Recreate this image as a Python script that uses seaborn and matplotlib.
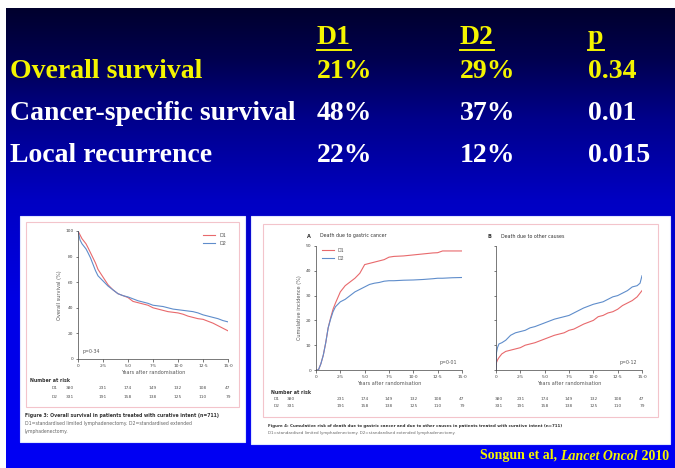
import numpy as np
import pandas as pd
import matplotlib
matplotlib.use("Agg")
import matplotlib.pyplot as plt
import seaborn as sns
from matplotlib.patches import Rectangle
from matplotlib.lines import Line2D

# ---------------- data ----------------
row_labels = ["Overall survival", "Cancer-specific survival", "Local recurrence"]
col_headers = ["D1", "D2", "p"]
d1_values = ["21%", "48%", "22%"]
d2_values = ["29%", "37%", "12%"]
p_values = ["0.34", "0.01", "0.015"]

# Figure 3: overall survival (%)
os_t = [0, 0.2, 0.4, 0.6, 0.8, 1.0, 1.25, 1.5, 1.75, 2.0, 2.25, 2.5, 3.0, 3.5, 4.0, 4.5,
        5.0, 5.5, 6.0, 6.5, 7.0, 7.5, 8.0, 8.5, 9.0, 9.5, 10.0, 10.5, 11.0, 11.5, 12.0,
        12.5, 13.0, 13.5, 14.0, 14.5, 15.0]
os_d1 = [100, 97, 94, 92, 90, 87, 83, 79, 75, 70, 67, 64, 58, 54, 51, 49.5,
         48, 45, 44, 43, 42, 40, 39, 38, 37, 36.5, 36, 35, 33.5, 32.5, 31.5,
         31, 29.5, 28, 26, 24, 22]
os_d2 = [100, 93, 90, 88, 86, 83, 79, 74, 69, 65, 63, 61, 57, 54, 51, 49.5,
         48.5, 47, 45.5, 44.5, 43.5, 42, 41.5, 41, 40, 39, 38.5, 38, 37.5, 37, 36,
         34.5, 33.5, 32.5, 31.5, 30, 29]

# Figure 4A: death due to gastric cancer (cumulative incidence %)
ca_t = [0, 0.25, 0.5, 0.75, 1.0, 1.25, 1.5, 1.75, 2.0, 2.5, 3.0, 3.5, 4.0, 4.5, 5.0, 5.5,
        6.0, 6.5, 7.0, 7.5, 8.0, 9.0, 10.0, 11.0, 12.0, 12.5, 13.0, 14.0, 15.0]
ca_d1 = [0, 0, 2.5, 6, 11, 17, 21, 24.5, 27, 31.5, 34, 35.5, 37, 39, 42.5, 43,
         43.5, 44, 44.5, 45.5, 45.8, 46, 46.4, 46.8, 47.2, 47.3, 48, 48, 48]
ca_d2 = [0, 0, 2.5, 6, 11, 17, 20.5, 23.5, 25.5, 27.5, 28.5, 30, 31.5, 32.5, 33.5, 34.5,
         35, 35.3, 35.8, 36, 36, 36.2, 36.3, 36.5, 36.8, 37, 37, 37.2, 37.3]

# Figure 4B: death due to other causes (cumulative incidence %)
oc_t = [0, 0.05, 0.15, 0.3, 0.6, 1.0, 1.5, 2.0, 2.5, 3.0, 3.5, 4.0, 5.0, 6.0, 7.0, 7.5,
        8.0, 8.5, 9.0, 10.0, 10.5, 11.0, 11.5, 12.0, 12.5, 13.0, 13.5, 14.0, 14.5, 14.8, 15.0]
oc_d1 = [0, 3, 4, 5, 6.5, 7.5, 8, 8.5, 9, 10, 10.5, 11, 12.5, 14, 15, 16,
         16.5, 17.5, 18.5, 20, 21.5, 22, 23, 23.5, 24.5, 26, 27, 28, 29.5, 31, 32]
oc_d2 = [0, 7, 9, 10.5, 11, 12, 14, 15, 15.5, 16, 17, 17.5, 19, 20.5, 21.5, 22,
         23, 24, 25, 26.5, 27, 27.5, 28.5, 29.5, 30, 31, 32, 33.5, 34, 35, 38]

x_ticks = [0, 2.5, 5.0, 7.5, 10.0, 12.5, 15.0]
x_tick_labels = ["0", "2·5", "5·0", "7·5", "10·0", "12·5", "15·0"]
nar_d1 = [380, 231, 174, 149, 132, 108, 47]
nar_d2 = [331, 191, 158, 138, 125, 110, 79]

RED = "#e8696c"
BLUE = "#5f8dcb"
GREY = "#555555"
YELLOW = "#f4f400"

W, H = 675, 468
fig = plt.figure(figsize=(W / 100, H / 100), dpi=100)
fig.patch.set_facecolor("white")

bg = fig.add_axes([0, 0, 1, 1])
bg.axis("off")

# gradient slide background
ys = np.arange(8, H)
stops_y = [8, 60, 120, 200, 300, 468]
stops_b = [45, 80, 140, 195, 228, 245]
blue = np.interp(ys, stops_y, stops_b) / 255.0
grad = np.zeros((len(ys), 1, 3))
grad[:, 0, 2] = blue
bg.imshow(grad, extent=(6, W, H, 8), aspect="auto", zorder=0)
bg.set_xlim(0, W)
bg.set_ylim(H, 0)

# ---------------- table ----------------
serif = "Liberation Serif"
fs = 20
col_x = [317, 460, 588]
row_y = [72, 113, 155]
row_colors = [YELLOW, "white", "white"]
fig.canvas.draw()
renderer = fig.canvas.get_renderer()
for cx, hdr in zip(col_x, col_headers):
    t = bg.text(cx, 37, hdr, color=YELLOW, fontsize=fs, fontweight="bold",
                family=serif, va="center", ha="left", zorder=5)
    bb = t.get_window_extent(renderer)
    bg.plot([cx, cx + bb.width], [50, 50], color=YELLOW, lw=1.4, zorder=5)
for ry, lab, a, b, p, c in zip(row_y, row_labels, d1_values, d2_values, p_values, row_colors):
    bg.text(10, ry, lab, color=c, fontsize=fs, fontweight="bold", family=serif, va="center", zorder=5)
    for cx, s in zip(col_x, [a, b, p]):
        bg.text(cx, ry, s, color=c, fontsize=fs, fontweight="bold", family=serif, va="center", zorder=5)

# citation (pieces, right aligned at x=669)
cite_parts = [("Songun et al, ", "normal"), ("Lancet Oncol", "italic"), (" 2010", "normal")]
widths = []
tmp = []
for s, st in cite_parts:
    tt = bg.text(0, 0, s, fontsize=10, fontweight="bold", style=st, family=serif)
    widths.append(tt.get_window_extent(renderer).width)
    tmp.append(tt)
for tt in tmp:
    tt.remove()
xcur = 669 - sum(widths)
for (s, st), wdt in zip(cite_parts, widths):
    bg.text(xcur, 456, s, color=YELLOW, fontsize=10, fontweight="bold", style=st,
            family=serif, ha="left", va="center", zorder=5)
    xcur += wdt

# ---------------- white panels ----------------
bg.add_patch(Rectangle((20, 216), 225, 226, fc="white", ec="#dfe6ff", lw=0.8, zorder=1))
bg.add_patch(Rectangle((251, 216), 419, 228, fc="white", ec="#dfe6ff", lw=0.8, zorder=1))
bg.add_patch(Rectangle((26, 222), 213, 185, fc="none", ec="#f3c4cb", lw=0.8, zorder=2))
bg.add_patch(Rectangle((263, 224), 395, 193, fc="none", ec="#f3c4cb", lw=0.8, zorder=2))

small = "DejaVu Sans"
tfs = 3.2


def style_axes(ax, ylim, yticks, ylabels):
    ax.set_facecolor("none")
    ax.set_xlim(0, 15)
    ax.set_ylim(*ylim)
    for s in ["top", "right"]:
        ax.spines[s].set_visible(False)
    for s in ["left", "bottom"]:
        ax.spines[s].set_color("#444444")
        ax.spines[s].set_linewidth(0.5)
    ax.set_xticks(x_ticks)
    ax.set_xticklabels(x_tick_labels)
    ax.set_yticks(yticks)
    ax.set_yticklabels(ylabels)
    ax.tick_params(length=1.8, width=0.5, labelsize=tfs, colors="#444444", pad=1.5)
    ax.set_xlabel("Years after randomisation", fontsize=3.6, color=GREY, labelpad=1.5, family=small)


def curves(ax, t, v1, v2):
    df = pd.DataFrame({"t": list(t) * 2, "v": list(v1) + list(v2),
                       "g": ["D1"] * len(t) + ["D2"] * len(t)})
    sns.lineplot(data=df, x="t", y="v", hue="g", palette={"D1": RED, "D2": BLUE},
                 estimator=None, sort=False, lw=0.8, ax=ax, legend=False)


def px_rect(x0, y0, x1, y1):
    return [x0 / W, 1 - y1 / H, (x1 - x0) / W, (y1 - y0) / H]


leg_handles = [Line2D([], [], color=RED, lw=0.8), Line2D([], [], color=BLUE, lw=0.8)]

# Figure 3
ax1 = fig.add_axes(px_rect(78, 231, 228, 359))
curves(ax1, os_t, os_d1, os_d2)
style_axes(ax1, (0, 100), [0, 20, 40, 60, 80, 100], ["0", "20", "40", "60", "80", "100"])
ax1.set_ylabel("Overall survival (%)", fontsize=3.6, color=GREY, labelpad=2, family=small)
ax1.legend(leg_handles, ["D1", "D2"], loc="upper right", frameon=False, fontsize=3.5,
           handlelength=2.5, borderaxespad=0, labelspacing=0.6, labelcolor=GREY)
ax1.text(0.03, 0.05, "p=0·34", transform=ax1.transAxes, fontsize=3.4, color=GREY)

# Figure 4A
ax2 = fig.add_axes(px_rect(316, 246, 462, 370))
curves(ax2, ca_t, ca_d1, ca_d2)
style_axes(ax2, (0, 50), [0, 10, 20, 30, 40, 50], ["0", "10", "20", "30", "40", "50"])
ax2.set_ylabel("Cumulative incidence (%)", fontsize=3.6, color=GREY, labelpad=3, family=small)
ax2.legend(leg_handles, ["D1", "D2"], loc="upper left", bbox_to_anchor=(0.03, 1.0), frameon=False,
           fontsize=3.3, handlelength=2.5, borderaxespad=0, labelspacing=0.6, labelcolor=GREY)
ax2.text(0.97, 0.05, "p=0·01", transform=ax2.transAxes, fontsize=3.4, color=GREY, ha="right")

# Figure 4B
ax3 = fig.add_axes(px_rect(496, 246, 642, 370))
curves(ax3, oc_t, oc_d1, oc_d2)
style_axes(ax3, (0, 50), [0, 10, 20, 30, 40, 50], [""] * 6)
ax3.set_ylabel("")
ax3.text(0.97, 0.05, "p=0·12", transform=ax3.transAxes, fontsize=3.4, color=GREY, ha="right")

# panel titles
for x0, letter, title in [(307, "A", "Death due to gastric cancer"), (488, "B", "Death due to other causes")]:
    bg.text(x0, 236, letter, fontsize=3.6, fontweight="bold", color="#333333", va="center", family=small, zorder=5)
    bg.text(x0 + 13, 236, title, fontsize=3.4, color="#333333", va="center", family=small, zorder=5)


# number at risk tables
def risk_table(x0, w, y1, y2, first_shift):
    for i, (t, a, b) in enumerate(zip(x_ticks, nar_d1, nar_d2)):
        xx = x0 + t / 15 * w + (first_shift if i == 0 else 0)
        bg.text(xx, y1, str(a), fontsize=3.2, color=GREY, ha="center", va="center", family=small, zorder=5)
        bg.text(xx, y2, str(b), fontsize=3.2, color=GREY, ha="center", va="center", family=small, zorder=5)


bg.text(30, 381, "Number at risk", fontsize=3.4, fontweight="bold", color="#333333", va="center", family=small, zorder=5)
bg.text(55, 388, "D1", fontsize=3.2, color=GREY, va="center", ha="center", family=small, zorder=5)
bg.text(55, 397, "D2", fontsize=3.2, color=GREY, va="center", ha="center", family=small, zorder=5)
risk_table(78, 150, 388, 397, -8)

bg.text(271, 392, "Number at risk", fontsize=3.4, fontweight="bold", color="#333333", va="center", family=small, zorder=5)
bg.text(277, 399, "D1", fontsize=3.2, color=GREY, va="center", ha="center", family=small, zorder=5)
bg.text(277, 406, "D2", fontsize=3.2, color=GREY, va="center", ha="center", family=small, zorder=5)
risk_table(316, 146, 399, 406, -25)
risk_table(496, 146, 399, 406, 3)

# captions
bg.text(25, 416, "Figure 3: Overall survival in patients treated with curative intent (n=711)",
        fontsize=3.3, fontweight="bold", color="#333333", va="center", family=small, zorder=5)
bg.text(25, 424, "D1=standardised limited lymphadenectomy. D2=standardised extended",
        fontsize=3.3, color="#666666", va="center", family=small, zorder=5)
bg.text(25, 432, "lymphadenectomy.", fontsize=3.3, color="#666666", va="center", family=small, zorder=5)

bg.text(268, 426, "Figure 4: Cumulative risk of death due to gastric cancer and due to other causes in patients treated with curative intent (n=711)",
        fontsize=2.9, fontweight="bold", color="#333333", va="center", family=small, zorder=5)
bg.text(268, 433, "D1=standardised limited lymphadenectomy. D2=standardised extended lymphadenectomy.",
        fontsize=2.9, color="#666666", va="center", family=small, zorder=5)

fig.savefig("out.png", dpi=100, facecolor=fig.get_facecolor())
